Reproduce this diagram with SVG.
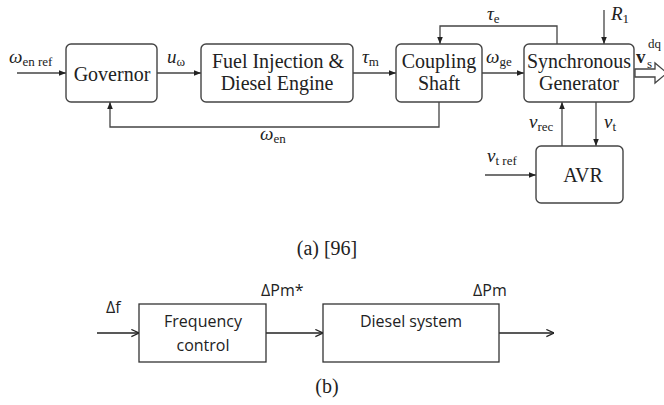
<svg xmlns="http://www.w3.org/2000/svg" width="664" height="405" viewBox="0 0 664 405">
<defs>
<marker id="fa" viewBox="0 0 10 10" refX="10" refY="5" markerWidth="7" markerHeight="7" orient="auto" markerUnits="userSpaceOnUse"><path d="M0,1 L10,5 L0,9 Z" fill="#222"/></marker>
<marker id="oa" viewBox="0 0 10 10" refX="9.5" refY="5" markerWidth="9" markerHeight="9" orient="auto" markerUnits="userSpaceOnUse"><path d="M1,1 L9.5,5 L1,9" fill="none" stroke="#222" stroke-width="1.3"/></marker>
</defs>
<style>
.b{fill:#fff;stroke:#444;stroke-width:1.4}
.c{fill:none;stroke:#444;stroke-width:1.3}
.t{font-family:"Liberation Serif","Times New Roman",serif;fill:#222}
.bt{font-size:20px;text-anchor:middle}
.lab{font-size:19px;font-style:italic}
.sub{font-size:13px;font-style:normal}
.s{font-family:"Open Sans","Noto Sans",sans-serif;fill:#222;font-size:16px}
.bx{fill:#fff;stroke:#333;stroke-width:1.3}
</style>
<rect width="664" height="405" fill="#fff"/>
<g id="connectors">
<path class="c" d="M17,73 H66" marker-end="url(#fa)"/>
<path class="c" d="M157,73 H201" marker-end="url(#fa)"/>
<path class="c" d="M353,73 H396" marker-end="url(#fa)"/>
<path class="c" d="M482,73 H524" marker-end="url(#fa)"/>
<path class="c" d="M557,44 V26 H440 V44" marker-end="url(#fa)"/>
<path class="c" d="M604,10 V44" marker-end="url(#fa)"/>
<path class="c" d="M439,102 V127 H110 V102" marker-end="url(#fa)"/>
<path class="c" d="M562,146 V102" marker-end="url(#fa)"/>
<path class="c" d="M596,102 V146" marker-end="url(#fa)"/>
<path class="c" d="M485,175 H536" marker-end="url(#fa)"/>
<polygon points="635,69 655,69 655,63 667,73 655,83 655,77 635,77" fill="#fff" stroke="#444" stroke-width="1.3"/>
<path class="c" d="M97,333 H139" marker-end="url(#oa)" style="stroke:#222"/>
<path class="c" d="M266,333 H323" marker-end="url(#oa)" style="stroke:#222"/>
<path class="c" d="M499,333 H554" marker-end="url(#oa)" style="stroke:#222"/>
</g>
<g id="governor"><rect class="b" x="66" y="44" width="91" height="58" rx="5"/><text class="t bt" x="112" y="81">Governor</text></g>
<g id="fuel"><rect class="b" x="201" y="44" width="152" height="58" rx="5"/><text class="t bt" x="278" y="68">Fuel Injection &amp;</text><text class="t bt" x="277" y="90">Diesel Engine</text></g>
<g id="coupling"><rect class="b" x="396" y="44" width="86" height="58" rx="5"/><text class="t bt" x="439" y="68">Coupling</text><text class="t bt" x="439" y="90">Shaft</text></g>
<g id="sg"><rect class="b" x="524" y="44" width="110" height="58" rx="5"/><text class="t bt" x="579" y="68" textLength="104" lengthAdjust="spacingAndGlyphs">Synchronous</text><text class="t bt" x="579" y="90">Generator</text></g>
<g id="avr"><rect class="b" x="536" y="146" width="87" height="57" rx="5"/><text class="t bt" x="583" y="182">AVR</text></g>
<g id="labels">
<text class="t lab" x="9" y="63">ω<tspan class="sub" dy="3">en ref</tspan></text>
<text class="t lab" x="167" y="63">u<tspan class="sub" dy="3">ω</tspan></text>
<text class="t lab" x="362" y="63">τ<tspan class="sub" dy="3">m</tspan></text>
<text class="t lab" x="486" y="63">ω<tspan class="sub" dy="3">ge</tspan></text>
<text class="t lab" x="487" y="20">τ<tspan class="sub" dy="3">e</tspan></text>
<text class="t lab" x="611" y="20">R<tspan class="sub" dy="3">1</tspan></text>
<text class="t" x="636" y="63" style="font-size:19px;font-weight:bold">v</text>
<text class="t" x="647" y="68" style="font-size:13px">s</text>
<text class="t" x="648" y="48" style="font-size:13px">dq</text>
<text class="t lab" x="260" y="140">ω<tspan class="sub" dy="3">en</tspan></text>
<text class="t lab" x="529" y="128">v<tspan class="sub" dy="3">rec</tspan></text>
<text class="t lab" x="604" y="128">v<tspan class="sub" dy="3">t</tspan></text>
<text class="t lab" x="487" y="162">v<tspan class="sub" dy="3">t ref</tspan></text>
<text class="t" x="327" y="255" style="font-size:20px" text-anchor="middle">(a) [96]</text>
<text class="t" x="327" y="393" style="font-size:20px" text-anchor="middle">(b)</text>
</g>
<g id="freq"><rect class="bx" x="139" y="304" width="127" height="58"/><text class="s" x="203" y="327" text-anchor="middle">Frequency</text><text class="s" x="203" y="351" text-anchor="middle">control</text></g>
<g id="diesel"><rect class="bx" x="323" y="304" width="176" height="58"/><text class="s" x="411" y="327" text-anchor="middle">Diesel system</text></g>
<g id="blabels">
<text class="s" x="106" y="313">Δf</text>
<text class="s" x="261" y="296">ΔPm*</text>
<text class="s" x="473" y="296">ΔPm</text>
</g>
</svg>
